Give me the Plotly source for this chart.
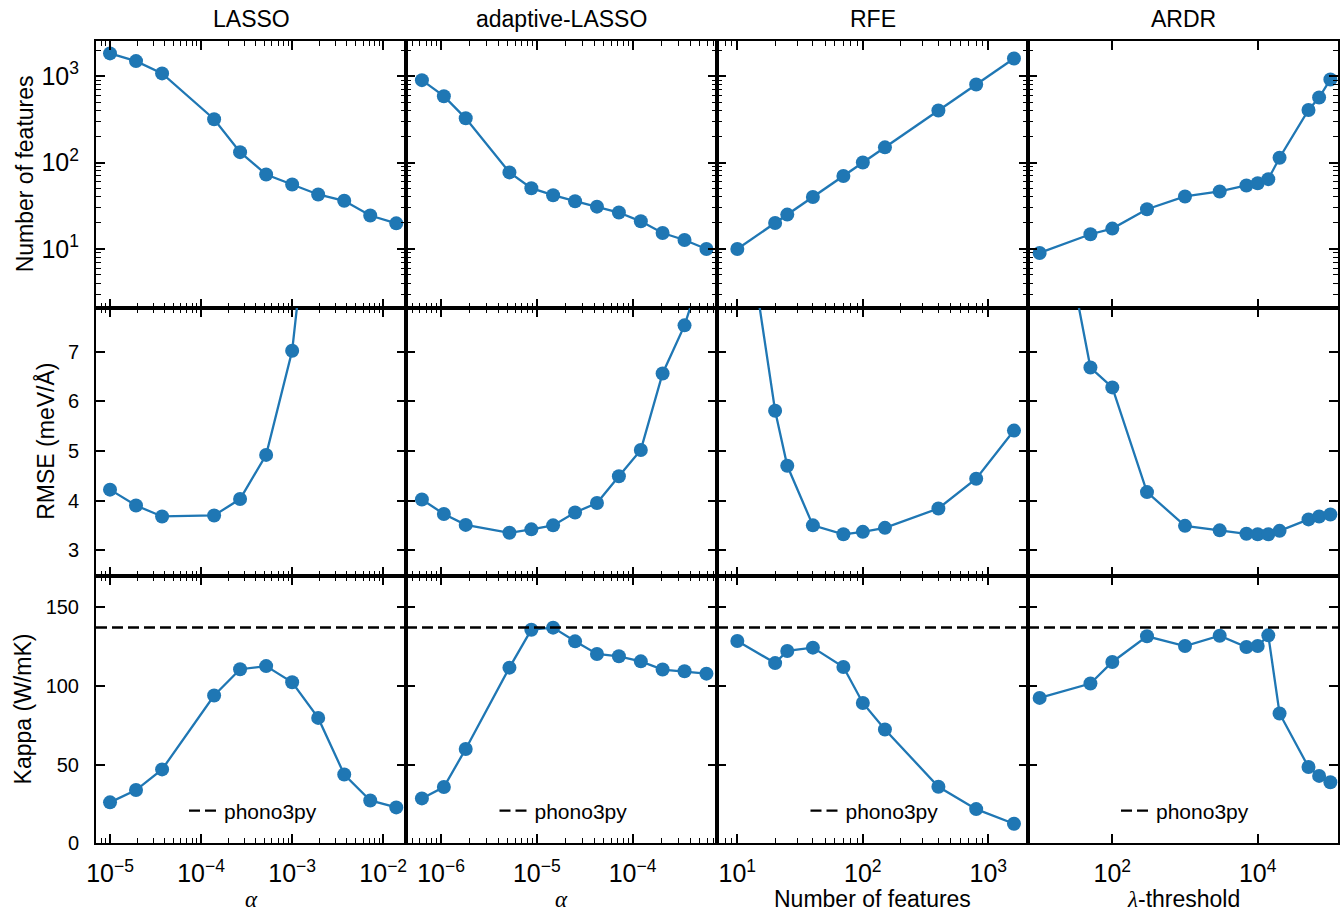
import plotly.graph_objects as go

# ---------------- data ----------------
methods = ["LASSO", "adaptive-LASSO", "RFE", "ARDR"]
row_titles = ["Number of features", "RMSE (meV/Å)", "Kappa (W/mK)"]
MATH = "font-family:'Liberation Serif','DejaVu Serif',serif"
x_titles = [f"<i><span style=\"{MATH}\">α</span></i>",
            f"<i><span style=\"{MATH}\">α</span></i>",
            "Number of features",
            f"<i><span style=\"{MATH}\">λ</span></i>-threshold"]

lasso_alpha = [1.0e-5, 1.93e-5, 3.73e-5, 1.39e-4, 2.68e-4, 5.18e-4, 1.0e-3, 1.93e-3, 3.73e-3, 7.20e-3, 1.39e-2]
lasso_nfeat = [1832, 1493, 1075, 317, 132, 72.8, 55.7, 42.7, 36.1, 24.4, 19.8]
lasso_rmse = [4.22, 3.90, 3.68, 3.70, 4.03, 4.92, 7.02, 11.0, 16.0, 21.0, 26.0]
lasso_kappa = [26.0, 33.8, 46.9, 93.8, 110.5, 112.5, 102.2, 79.6, 43.7, 27.2, 22.8]

adlasso_alpha = [6.31e-7, 1.07e-6, 1.81e-6, 5.18e-6, 8.77e-6, 1.48e-5, 2.51e-5, 4.25e-5,
                 7.20e-5, 1.22e-4, 2.06e-4, 3.49e-4, 5.91e-4]
adlasso_nfeat = [899, 586, 325, 76.9, 50.5, 41.9, 35.7, 30.9, 26.4, 20.9, 15.3, 12.7, 10.0]
adlasso_rmse = [4.02, 3.73, 3.51, 3.35, 3.42, 3.50, 3.76, 3.95, 4.49, 5.02, 6.56, 7.53, 8.9]
adlasso_kappa = [28.5, 35.7, 59.9, 111.5, 135.6, 136.9, 128.2, 120.2, 118.7, 115.5, 110.3, 109.2, 107.7]

rfe_nfeat = [10, 20, 25, 40, 70, 100, 150, 400, 800, 1600]
rfe_rmse = [10.9, 5.81, 4.70, 3.50, 3.32, 3.37, 3.45, 3.84, 4.44, 5.41]
rfe_kappa = [128.4, 114.4, 122.1, 124.2, 111.9, 89.1, 72.2, 35.9, 21.7, 12.4]

ardr_threshold = [10, 50, 100, 300, 1000, 3000, 7000, 10000, 14000, 20000, 50000, 70000, 100000]
ardr_nfeat = [9.0, 14.8, 17.2, 28.8, 40.5, 46.3, 54.3, 57.7, 64.3, 113.8, 406, 566, 916]
ardr_rmse = [12.0, 6.68, 6.28, 4.17, 3.49, 3.40, 3.33, 3.32, 3.32, 3.39, 3.62, 3.68, 3.72]
ardr_kappa = [92.3, 101.4, 115.1, 131.4, 125.2, 131.8, 124.6, 125.2, 132.0, 82.4, 48.4, 42.8, 38.8]

phono3py_kappa = 137.0

hyper = [lasso_alpha, adlasso_alpha, rfe_nfeat, ardr_threshold]
panels = [
    [lasso_nfeat, adlasso_nfeat, rfe_nfeat, ardr_nfeat],
    [lasso_rmse, adlasso_rmse, rfe_rmse, ardr_rmse],
    [lasso_kappa, adlasso_kappa, rfe_kappa, ardr_kappa],
]

# ---------------- layout geometry ----------------
W, H = 1344, 915
col_px = [(96, 406), (406, 717), (717, 1028), (1028, 1338)]
row_px = [(40.7, 308), (308, 575.5), (575.5, 843.3)]
x_ranges = [(-5.154, -1.75), (-6.366, -3.118), (0.838, 3.316), (0.840, 5.105)]  # log10
y_ranges = [(0.317, 3.41), (2.49, 7.88), (0, 170)]

BLUE = "#1f77b4"
FONT = "Liberation Sans, Arial, Helvetica, sans-serif"

fig = go.Figure()
layout = dict(
    template="none",
    width=W, height=H, autosize=False,
    margin=dict(l=0, r=0, t=0, b=0, pad=0, autoexpand=False),
    paper_bgcolor="white", plot_bgcolor="white",
    font=dict(family=FONT, size=20, color="black"),
    showlegend=True,
    annotations=[],
)

axis_common = dict(
    showline=True, linewidth=2, linecolor="black", mirror="allticks",
    ticks="inside", ticklen=9, tickwidth=1.5, tickcolor="black",
    showgrid=False, zeroline=False, automargin=False,
    tickfont=dict(family=FONT, size=20, color="black"),
)
minor_log = dict(ticks="inside", ticklen=5, tickwidth=1.2, tickcolor="black",
                 dtick="D1", showgrid=False)

for r in range(3):
    for c in range(4):
        p = r * 4 + c + 1
        sfx = "" if p == 1 else str(p)
        x0, x1 = col_px[c]
        ytop, ybot = row_px[r]

        xa = dict(axis_common)
        xa.update(domain=[x0 / W, x1 / W], anchor=f"y{sfx}", type="log",
                  range=list(x_ranges[c]), showticklabels=(r == 2),
                  exponentformat="power", labelalias={"10": "10<sup>1</sup>"},
                  ticklabelstandoff=8)
        if c < 3:
            xa.update(dtick=1, minor=minor_log)
        else:
            xa.update(dtick=2)

        ya = dict(axis_common)
        ya.update(domain=[1 - ybot / H, 1 - ytop / H], anchor=f"x{sfx}",
                  range=list(y_ranges[r]), showticklabels=(c == 0),
                  ticklabelstandoff=11)
        if r == 0:
            ya.update(type="log", dtick=1, minor=minor_log, exponentformat="power",
                      labelalias={"10": "10<sup>1</sup>"})
        elif r == 1:
            ya.update(dtick=1, tick0=0)
        else:
            ya.update(dtick=50, tick0=0)

        layout[f"xaxis{sfx}"] = xa
        layout[f"yaxis{sfx}"] = ya

        fig.add_trace(go.Scatter(
            x=hyper[c], y=panels[r][c], mode="lines+markers",
            line=dict(color=BLUE, width=2.3),
            marker=dict(color=BLUE, size=14, line=dict(width=0)),
            xaxis=f"x{sfx}", yaxis=f"y{sfx}", showlegend=False,
        ))

        if r == 2:
            leg = "legend" if c == 0 else f"legend{c + 1}"
            lo, hi = x_ranges[c]
            fig.add_trace(go.Scatter(
                x=[10 ** lo, 10 ** hi], y=[phono3py_kappa, phono3py_kappa],
                mode="lines", line=dict(color="black", width=2.3, dash="11px,5px"),
                name="phono3py", xaxis=f"x{sfx}", yaxis=f"y{sfx}",
                legend=leg, showlegend=True,
            ))
            layout[leg] = dict(
                x=((x0 + x1) / 2 + 2) / W, xanchor="center",
                y=1 - 811 / H, yanchor="middle",
                bgcolor="rgba(0,0,0,0)", borderwidth=0,
                font=dict(family=FONT, size=21, color="black"),
            )

# column titles and x-axis titles
for c in range(4):
    x0, x1 = col_px[c]
    xc = (x0 + x1) / 2 / W
    layout["annotations"].append(dict(
        text=methods[c], x=xc, y=1 - 18.5 / H, xref="paper", yref="paper",
        xanchor="center", yanchor="middle", showarrow=False,
        font=dict(family=FONT, size=23, color="black")))
    layout["annotations"].append(dict(
        text=x_titles[c], x=xc, y=1 - 899 / H, xref="paper", yref="paper",
        xanchor="center", yanchor="middle", showarrow=False,
        font=dict(family=FONT, size=23, color="black")))

# row titles
row_title_x = [25, 46, 23]
for r in range(3):
    ytop, ybot = row_px[r]
    layout["annotations"].append(dict(
        text=row_titles[r], x=row_title_x[r] / W, y=1 - (ytop + ybot) / 2 / H,
        xref="paper", yref="paper", xanchor="center", yanchor="middle",
        textangle=-90, showarrow=False,
        font=dict(family=FONT, size=23, color="black")))

fig.update_layout(**layout)
fig.write_html("out.html")
